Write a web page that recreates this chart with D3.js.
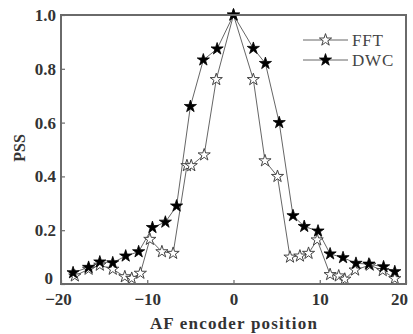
<!DOCTYPE html>
<html><head><meta charset="utf-8">
<script src="https://cdn.jsdelivr.net/npm/d3@7"></script>
<style>body{margin:0;background:#fff}</style>
</head><body>
<svg id="c" width="413" height="334"></svg>
<script>
const fftX = [-18.4,-16.8,-15.5,-14.0,-12.6,-11.8,-10.8,-9.7,-8.3,-7.0,-5.4,-4.9,-3.4,-2.0,0,2.3,3.65,5.1,6.55,7.7,8.7,9.7,11.2,12.2,12.9,14.1,15.8,17.3,18.7];
const fftY = [0.03,0.055,0.07,0.055,0.027,0.021,0.04,0.166,0.12,0.114,0.44,0.44,0.48,0.76,1.0,0.76,0.458,0.40,0.10,0.104,0.114,0.164,0.035,0.03,0.018,0.052,0.07,0.05,0.02];
const dwcX = [-18.6,-16.8,-15.5,-14.0,-12.5,-11.0,-9.4,-7.9,-6.6,-5.0,-3.5,-1.9,0,2.3,3.7,5.3,6.9,8.2,9.8,11.2,12.7,14.2,15.7,17.4,18.7];
const dwcY = [0.042,0.062,0.082,0.079,0.104,0.12,0.21,0.23,0.29,0.66,0.833,0.874,1.0,0.876,0.82,0.60,0.254,0.214,0.197,0.112,0.098,0.077,0.074,0.064,0.046];
const xTicks = [-20,-10,0,10,20];
const yTicks = [0,0.2,0.4,0.6,0.8,1.0];
const seriesNames = ["FFT","DWC"];

const svg = d3.select("#c");
const L=61,R=406,T=15,B=284;
const x = d3.scaleLinear().domain([-20,20]).range([L,R]);
const y = d3.scaleLinear().domain([0,1]).range([B,T]);
const axisCol="#6a6a6a", lineCol="#666", font="Liberation Serif";

const line = d3.line().x(d=>x(d[0])).y(d=>y(d[1]));
const fft = fftX.map((v,i)=>[v,fftY[i]]);
const dwc = dwcX.map((v,i)=>[v,dwcY[i]]);
svg.append("path").datum(fft).attr("d",line).attr("fill","none").attr("stroke",lineCol).attr("stroke-width",1);
svg.append("path").datum(dwc).attr("d",line).attr("fill","none").attr("stroke",lineCol).attr("stroke-width",1);
const star = d3.symbol().type(d3.symbolStar).size(46);
svg.selectAll(".f").data(fft).join("path").attr("d",star)
  .attr("transform",d=>`translate(${x(d[0])},${y(d[1])})`)
  .attr("fill","#fff").attr("stroke","#444").attr("stroke-width",1);
svg.selectAll(".d").data(dwc).join("path").attr("d",star)
  .attr("transform",d=>`translate(${x(d[0])},${y(d[1])})`)
  .attr("fill","#000").attr("stroke","#000").attr("stroke-width",0.8);

svg.append("rect").attr("x",L).attr("y",T).attr("width",R-L).attr("height",B-T)
  .attr("fill","none").attr("stroke",axisCol).attr("stroke-width",2);

const xa = svg.append("g").attr("transform",`translate(0,${B})`)
  .call(d3.axisBottom(x).tickValues(xTicks).tickSize(-4).tickPadding(9).tickFormat(d=>d<0?"\u2212"+Math.abs(d):d));
const ya = svg.append("g").attr("transform",`translate(${L},0)`)
  .call(d3.axisLeft(y).tickValues(yTicks).tickSize(-4).tickPadding(5).tickFormat(d=>d===0?"0":d.toFixed(1)));
[xa,ya].forEach(a=>{
  a.select(".domain").remove();
  a.selectAll("line").attr("stroke",axisCol).attr("stroke-width",1.2);
  a.selectAll("text").attr("font-family",font).attr("font-weight","bold").attr("font-size",17).attr("fill","#333");
});
xa.selectAll(".tick text").filter(d=>d===20).attr("dx",-7);
xa.selectAll(".tick text").filter(d=>d===-20).attr("dx",-3);
ya.selectAll(".tick text").filter(d=>d===0).attr("dy","-0.05em").attr("dx",-3);

svg.append("text").attr("x",234).attr("y",329).attr("text-anchor","middle")
  .attr("font-family",font).attr("font-weight","bold").attr("font-size",17).attr("letter-spacing",1.2).attr("fill","#333")
  .text("AF encoder position");
svg.append("text").attr("transform","translate(25,148) rotate(-90)").attr("text-anchor","middle")
  .attr("font-family",font).attr("font-weight","bold").attr("font-size",16).attr("fill","#333")
  .text("PSS");

const lg = svg.append("g");
seriesNames.forEach((n,i)=>{
  const yy = 40 + i*20;
  lg.append("line").attr("x1",303).attr("x2",348).attr("y1",yy).attr("y2",yy).attr("stroke",lineCol).attr("stroke-width",1);
  lg.append("path").attr("d",star).attr("transform",`translate(325.5,${yy})`)
    .attr("fill",i===0?"#fff":"#000").attr("stroke",i===0?"#444":"#000").attr("stroke-width",i===0?1:0.8);
  lg.append("text").attr("x",352).attr("y",yy+6).attr("font-family",font).attr("font-size",17).attr("letter-spacing",0.8).attr("fill","#444").text(n);
});
</script>
</body></html>
